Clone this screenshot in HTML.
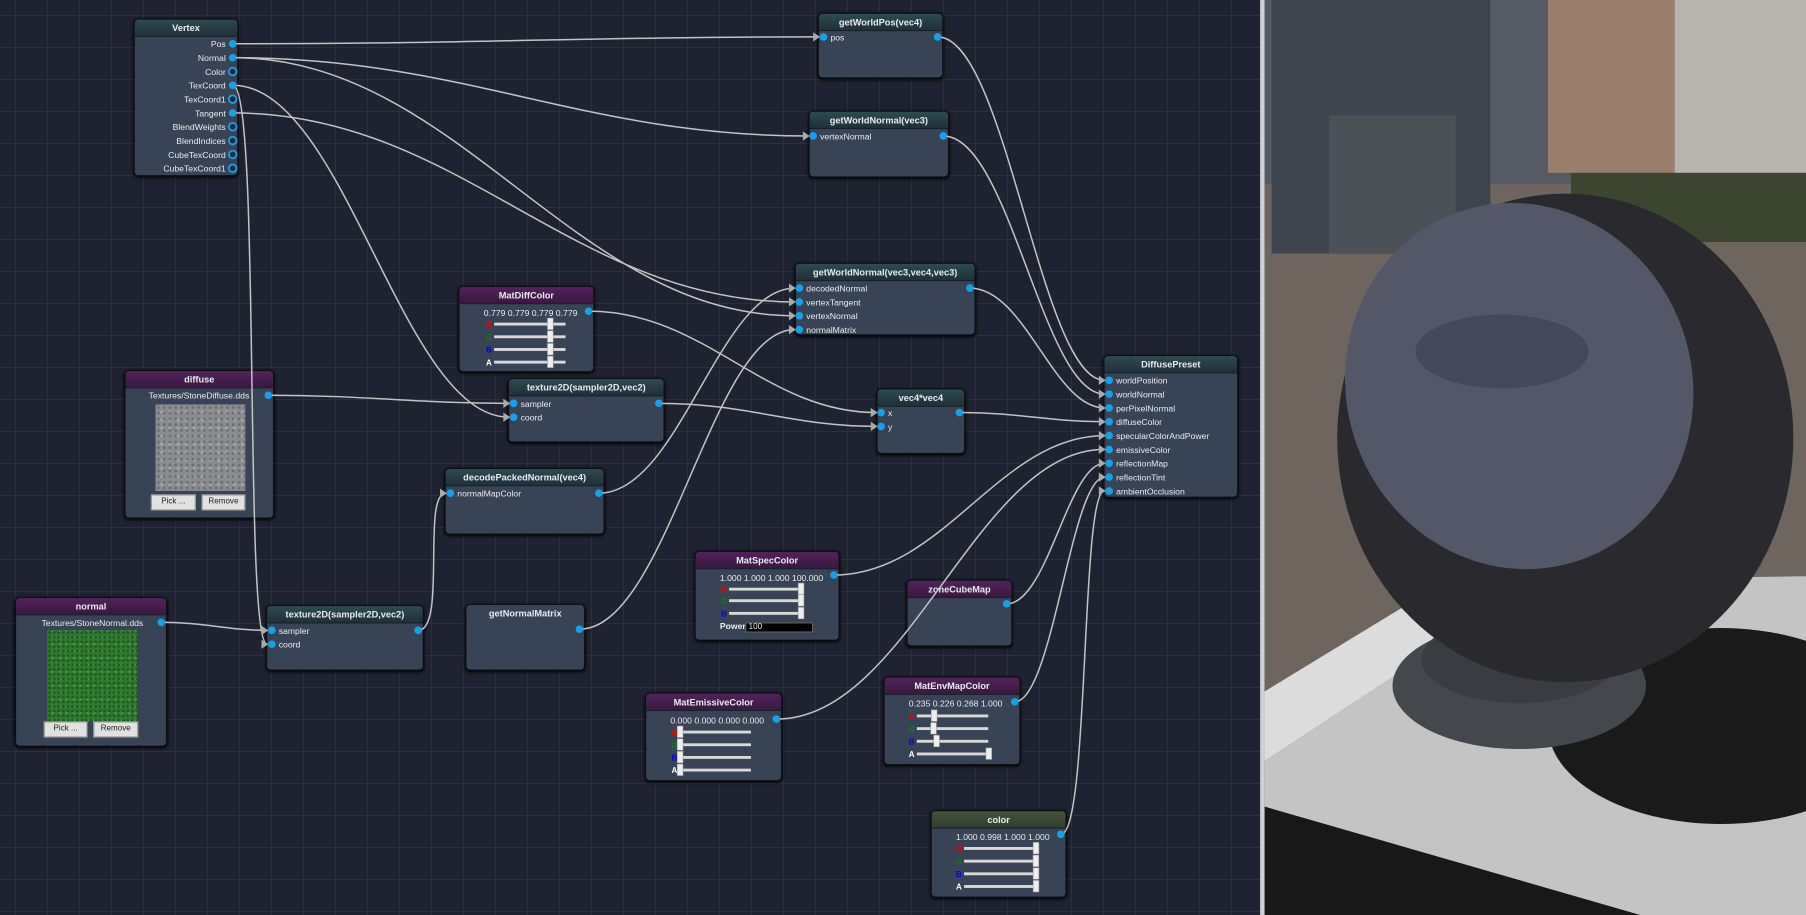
<!DOCTYPE html>
<html><head><meta charset="utf-8"><style>
*{margin:0;padding:0;box-sizing:border-box}
html,body{width:1806px;height:915px;overflow:hidden;background:#1f2230}
#grid{position:absolute;left:0;top:0;width:1260px;height:915px;background-color:#1f2230;
background-image:linear-gradient(#2b2f40 1px,transparent 1px),linear-gradient(90deg,#2b2f40 1px,transparent 1px);
background-size:32px 32px;background-position:15px 15px}
#w{position:absolute;left:0;top:0;width:1568px;height:794px;transform:scale(1.1518,1.1524);transform-origin:0 0;font-family:"Liberation Sans",sans-serif;color:#e8ecf0}
.n{position:absolute;background:#394356;border:1px solid #0d0f15;border-radius:4px;box-shadow:0 1px 3px #000;overflow:hidden}
.h{height:15px;line-height:15px;text-align:center;font-size:8px;font-weight:bold;background:linear-gradient(#2f4a52,#1f3038);border-bottom:1px solid #15202a}
.p .h{background:linear-gradient(#52235a,#3a1840)}
.g .h{background:linear-gradient(#44543c,#323f2d)}
.t{position:absolute;font-size:7.5px;white-space:nowrap}
.r{position:absolute;font-size:7.5px;white-space:nowrap;text-align:right}
svg{position:absolute;left:0;top:0}
.btn{position:absolute;height:14px;background:#e1e1e1;border:1px solid #999;color:#222;font-size:7px;line-height:12px;text-align:center}
</style></head><body>
<div id="grid"></div>
<div id="w">
<div class="n" style="left:116px;top:16px;width:91px;height:137px"><div class="h">Vertex</div></div>
<div class="n" style="left:710px;top:11px;width:109px;height:57px"><div class="h">getWorldPos(vec4)</div></div>
<div class="n" style="left:702px;top:96px;width:122px;height:58px"><div class="h">getWorldNormal(vec3)</div></div>
<div class="n" style="left:690px;top:228px;width:157px;height:63px"><div class="h">getWorldNormal(vec3,vec4,vec3)</div></div>
<div class="n p" style="left:398px;top:248px;width:118px;height:75px"><div class="h">MatDiffColor</div></div>
<div class="n p" style="left:108px;top:321px;width:130px;height:129px"><div class="h">diffuse</div>
<div style="position:absolute;left:26px;top:29px;width:78px;height:75px;background:#8a8c90;background-image:radial-gradient(#6d6f73 1px,transparent 1.5px),radial-gradient(#a8aaae 1px,transparent 1.5px);background-size:5px 5px,7px 7px;background-position:0 0,2px 3px"></div></div>
<div class="n" style="left:441px;top:328px;width:136px;height:56px"><div class="h">texture2D(sampler2D,vec2)</div></div>
<div class="n" style="left:761px;top:337px;width:77px;height:57px"><div class="h">vec4*vec4</div></div>
<div class="n" style="left:958px;top:308px;width:117px;height:124px"><div class="h">DiffusePreset</div></div>
<div class="n" style="left:386px;top:406px;width:139px;height:58px"><div class="h">decodePackedNormal(vec4)</div></div>
<div class="n p" style="left:13px;top:518px;width:132px;height:130px"><div class="h">normal</div>
<div style="position:absolute;left:27px;top:28px;width:78px;height:79px;background:#2f7a2f;background-image:radial-gradient(#1f5a22 1px,transparent 1.5px),radial-gradient(#4a9a45 1px,transparent 1.5px);background-size:4px 4px,6px 6px;background-position:0 0,2px 3px"></div></div>
<div class="n" style="left:231px;top:525px;width:137px;height:57px"><div class="h">texture2D(sampler2D,vec2)</div></div>
<div class="n" style="left:404px;top:524px;width:104px;height:58px"><div class="h" style="background:none;border:none;line-height:16px">getNormalMatrix</div></div>
<div class="n p" style="left:603px;top:478px;width:126px;height:78px"><div class="h">MatSpecColor</div></div>
<div class="n p" style="left:787px;top:503px;width:92px;height:58px"><div class="h">zoneCubeMap</div></div>
<div class="n p" style="left:560px;top:601px;width:119px;height:77px"><div class="h">MatEmissiveColor</div></div>
<div class="n p" style="left:767px;top:587px;width:119px;height:77px"><div class="h">MatEnvMapColor</div></div>
<div class="n g" style="left:808px;top:703px;width:118px;height:76px"><div class="h">color</div></div>

<div class="r" style="left:100px;width:96px;top:34px">Pos</div>
<div class="r" style="left:100px;width:96px;top:46px">Normal</div>
<div class="r" style="left:100px;width:96px;top:58px">Color</div>
<div class="r" style="left:100px;width:96px;top:70px">TexCoord</div>
<div class="r" style="left:100px;width:96px;top:82px">TexCoord1</div>
<div class="r" style="left:100px;width:96px;top:94px">Tangent</div>
<div class="r" style="left:100px;width:96px;top:106px">BlendWeights</div>
<div class="r" style="left:100px;width:96px;top:118px">BlendIndices</div>
<div class="r" style="left:100px;width:96px;top:130px">CubeTexCoord</div>
<div class="r" style="left:100px;width:96px;top:142px">CubeTexCoord1</div>
<div class="t" style="left:721px;top:28px">pos</div>
<div class="t" style="left:712px;top:114px">vertexNormal</div>
<div class="t" style="left:700px;top:246px">decodedNormal</div>
<div class="t" style="left:700px;top:258px">vertexTangent</div>
<div class="t" style="left:700px;top:270px">vertexNormal</div>
<div class="t" style="left:700px;top:282px">normalMatrix</div>
<div class="t" style="left:420px;top:267px">0.779 0.779 0.779 0.779</div>
<div class="t" style="left:129px;top:339px">Textures/StoneDiffuse.dds</div>
<div class="btn" style="left:131px;top:429px;width:39px">Pick ...</div>
<div class="btn" style="left:175px;top:429px;width:38px">Remove</div>
<div class="t" style="left:452px;top:346px">sampler</div>
<div class="t" style="left:452px;top:358px">coord</div>
<div class="t" style="left:771px;top:354px">x</div>
<div class="t" style="left:771px;top:366px">y</div>
<div class="t" style="left:969px;top:326px">worldPosition</div>
<div class="t" style="left:969px;top:338px">worldNormal</div>
<div class="t" style="left:969px;top:350px">perPixelNormal</div>
<div class="t" style="left:969px;top:362px">diffuseColor</div>
<div class="t" style="left:969px;top:374px">specularColorAndPower</div>
<div class="t" style="left:969px;top:386px">emissiveColor</div>
<div class="t" style="left:969px;top:398px">reflectionMap</div>
<div class="t" style="left:969px;top:410px">reflectionTint</div>
<div class="t" style="left:969px;top:422px">ambientOcclusion</div>
<div class="t" style="left:397px;top:424px">normalMapColor</div>
<div class="t" style="left:36px;top:536px">Textures/StoneNormal.dds</div>
<div class="btn" style="left:38px;top:626px;width:38px">Pick ...</div>
<div class="btn" style="left:81px;top:626px;width:39px">Remove</div>
<div class="t" style="left:242px;top:543px">sampler</div>
<div class="t" style="left:242px;top:555px">coord</div>
<div class="t" style="left:625px;top:497px">1.000 1.000 1.000 100.000</div>
<div class="t" style="left:625px;top:539px;font-weight:bold">Power</div>
<div style="position:absolute;left:647px;top:540px;width:59px;height:9px;background:#000;border:1px solid #666;font-size:7px;line-height:8px;padding-left:2px">100</div>
<div class="t" style="left:582px;top:621px">0.000 0.000 0.000 0.000</div>
<div class="t" style="left:789px;top:606px">0.235 0.226 0.268 1.000</div>
<div class="t" style="left:830px;top:722px">1.000 0.998 1.000 1.000</div>

<svg width="1568" height="794" id="s"></svg>

<svg style="left:1094px" width="474" height="794">
<rect x="0" y="0" width="4" height="794" fill="#cfd0d4"/>
<rect x="4" y="0" width="470" height="794" fill="#6f655f"/>
<rect x="4" y="0" width="470" height="160" fill="#565b63"/>
<rect x="10" y="0" width="190" height="220" fill="#3f454e"/>
<rect x="60" y="100" width="110" height="120" fill="#4c5057"/>
<rect x="250" y="0" width="110" height="150" fill="#9a7e6c"/>
<rect x="360" y="0" width="114" height="150" fill="#b8b4ae"/>
<rect x="270" y="150" width="204" height="60" fill="#3b4530"/>
<polygon points="4,600 160,505 474,500 474,794 330,794 4,700" fill="#c4c4c4"/>
<polygon points="4,600 160,505 240,505 4,660" fill="#dcdcdc"/>
<polygon points="4,700 330,794 4,794" fill="#181818"/>
<ellipse cx="400" cy="630" rx="150" ry="85" fill="#1a1a1a"/>
<ellipse cx="225" cy="595" rx="110" ry="55" fill="#45474d"/>
<ellipse cx="225" cy="572" rx="85" ry="38" fill="#3a3c42"/>
<rect x="205" y="500" width="40" height="70" fill="#333"/>
<ellipse cx="265" cy="380" rx="198" ry="212" fill="#2a292e"/>
<ellipse cx="225" cy="335" rx="150" ry="160" transform="rotate(-20 225 335)" fill="#545767"/>
<ellipse cx="210" cy="305" rx="75" ry="32" fill="#45485a"/>
</svg>
</div>
<script>
const s=document.getElementById('s');let h='';
const C=[[202,38,715,32],[202,50,706,118],[202,50,694,274],[202,74,446,362],[202,74,236,559],[202,98,694,262],
[511,270,765,358],[233,343,446,350],[572,350,765,370],[520,428,694,250],[140,540,236,547],[363,547,391,428],[503,546,694,286],
[814,32,963,330],[819,118,963,342],[842,250,963,354],[833,358,963,366],[724,499,963,378],[674,624,963,390],[874,524,963,402],[881,609,963,414],[921,724,963,426]];
C.forEach(([a,b,c,d])=>{let o=Math.max(25,Math.abs(c-a)*0.4);
h+=`<path d="M${a} ${b} C${a+o} ${b} ${c-o} ${d} ${c-4} ${d}" fill="none" stroke="#c4c4c4" stroke-width="1.3"/>`;
h+=`<polygon points="${c-9},${d-4} ${c-3},${d} ${c-9},${d+4}" fill="#aaa"/>`});
function port(x,y,f){h+=`<circle cx="${x}" cy="${y}" r="3.3" fill="${f?'#18a0e6':'#1f2a3a'}" stroke="#18a0e6" stroke-width="${f?0:1.6}"/>`}
[38,50,62,74,86,98,110,122,134,146].forEach((y,i)=>port(202,y,[0,1,3,5].includes(i)));
[[715,32],[814,32],[706,118],[819,118],[694,250],[694,262],[694,274],[694,286],[842,250],[511,270],[233,343],[446,350],[446,362],[572,350],
[765,358],[765,370],[833,358],[391,428],[520,428],[140,540],[236,547],[236,559],[363,547],[503,546],[724,499],[874,524],[674,624],[881,609],[921,724]].forEach(p=>port(p[0],p[1],1));
[330,342,354,366,378,390,402,414,426].forEach(y=>port(963,y,1));
function sl(x,ys,labs,vals){ys.forEach((y,i)=>{const col={R:'#e00',G:'#080',B:'#00e',A:'#fff'}[labs[i]];
h+=`<text x="${x}" y="${y+3}" font-size="7" font-weight="bold" fill="${col}" font-family="Liberation Sans">${labs[i]}</text>`;
h+=`<rect x="${x+7}" y="${y-1}" width="62" height="2.5" fill="#d8d8d8"/>`;
h+=`<rect x="${x+5+vals[i]*62}" y="${y-5}" width="5" height="10" fill="#eee" stroke="#999" stroke-width=".5"/>`})}
sl(422,[281,292,303,314],'RGBA',[.779,.779,.779,.779]);
sl(626,[511,521,532],'RGB',[1,1,1]);
sl(583,[635,646,657,668],'RGBA',[0,0,0,0]);
sl(789,[621,632,643,654],'RGBA',[.235,.226,.268,1]);
sl(830,[736,747,758,769],'RGBA',[1,.998,1,1]);
s.innerHTML=h;
</script>
</body></html>
